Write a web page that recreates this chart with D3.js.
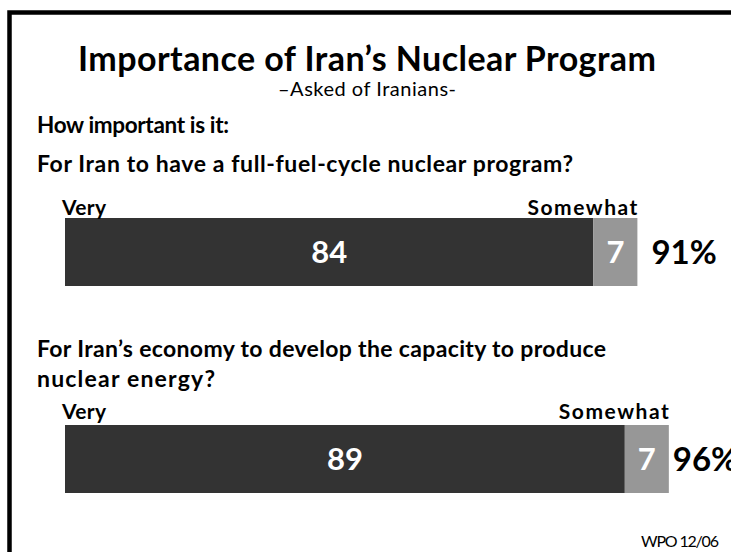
<!DOCTYPE html>
<html>
<head>
<meta charset="utf-8">
<script src="https://cdn.jsdelivr.net/npm/d3@7"></script>
<style>
  html, body { margin: 0; padding: 0; background: #fff; }
  svg { display: block; }
  text { font-family: Lato, "Open Sans", sans-serif; }
</style>
</head>
<body>
<svg id="chart" width="731" height="552"></svg>
<script>
// ---- data ----
const title = "Importance of Iran\u2019s Nuclear Program";
const subtitle = "\u2013Asked of Iranians-";
const intro = "How important is it:";
const questions = [
  ["For Iran to have a full-fuel-cycle nuclear program?"],
  ["For Iran\u2019s economy to develop the capacity to produce", "nuclear energy?"]
];
const seriesNames = ["Very", "Somewhat"];
const very = [84, 89];
const somewhat = [7, 7];
const totals = [91, 96];
const source = "WPO 12/06";

// ---- layout ----
const W = 731, H = 552;
const svg = d3.select("#chart");
const colors = ["#333333", "#979797"];

// fit a text element to a target width by adjusting letter spacing
function fit(sel, w) {
  sel.attr("textLength", w).attr("lengthAdjust", "spacing");
  return sel;
}

// frame
svg.append("rect")
  .attr("x", 9.5).attr("y", 12.5)
  .attr("width", W + 20).attr("height", H + 20)
  .attr("fill", "none").attr("stroke", "#000").attr("stroke-width", 4.5);

fit(svg.append("text").attr("x", 78).attr("y", 71)
  .attr("font-weight", 700)
  .attr("font-size", 34).attr("fill", "#000").text(title), 578);

fit(svg.append("text").attr("x", 278).attr("y", 96)
  .attr("font-size", 20)
  .attr("fill", "#000").text(subtitle), 178);

fit(svg.append("text").attr("x", 37).attr("y", 133)
  .attr("font-weight", 700).attr("font-size", 22.5)
  .attr("fill", "#000").text(intro), 192);

const x = d3.scaleLinear().domain([0, 100]).range([65, 694]);
const questionBase = [172, 357];
const qWidths = [[536], [569, 178]];
const barTop = [218, 425];
const labelBase = [215, 419];
const barH = 68;

questions.forEach((lines, i) => {
  const g = svg.append("g");
  lines.forEach((ln, j) => {
    fit(g.append("text").attr("x", 37).attr("y", questionBase[i] + j * 30)
      .attr("font-weight", 700).attr("font-size", 23)
      .attr("fill", "#000").text(ln), qWidths[i][j]);
  });
  const segs = [
    { name: seriesNames[0], x0: 0, x1: very[i], v: very[i], c: colors[0] },
    { name: seriesNames[1], x0: very[i], x1: very[i] + somewhat[i], v: somewhat[i], c: colors[1] }
  ];
  g.selectAll("rect.seg").data(segs).enter().append("rect")
    .attr("class", "seg")
    .attr("x", d => x(d.x0)).attr("y", barTop[i])
    .attr("width", d => x(d.x1) - x(d.x0)).attr("height", barH)
    .attr("fill", d => d.c);
  g.selectAll("text.val").data(segs).enter().append("text")
    .attr("class", "val")
    .attr("x", d => (x(d.x0) + x(d.x1)) / 2)
    .attr("y", barTop[i] + barH / 2 + 11)
    .attr("text-anchor", "middle").attr("font-weight", 700)
    .attr("font-size", 31).attr("fill", "#fff")
    .text(d => d.v);
  // series labels
  fit(g.append("text").attr("x", x(0) - 3).attr("y", labelBase[i])
    .attr("font-weight", 700).attr("font-size", 21).attr("fill", "#000")
    .text(seriesNames[0]), 44);
  fit(g.append("text").attr("x", x(very[i] + somewhat[i]) - 110).attr("y", labelBase[i])
    .attr("font-weight", 700).attr("font-size", 21).attr("fill", "#000")
    .text(seriesNames[1]), 110);
  // total
  g.append("text").attr("x", x(totals[i]) + (i === 0 ? 14 : 4))
    .attr("y", barTop[i] + barH / 2 + 12)
    .attr("font-weight", 700).attr("font-size", 33).attr("fill", "#000")
    .text(totals[i] + "%");
});

fit(svg.append("text").attr("x", 641).attr("y", 547)
  .attr("font-size", 16)
  .attr("fill", "#000").text(source), 78);
</script>
</body>
</html>
